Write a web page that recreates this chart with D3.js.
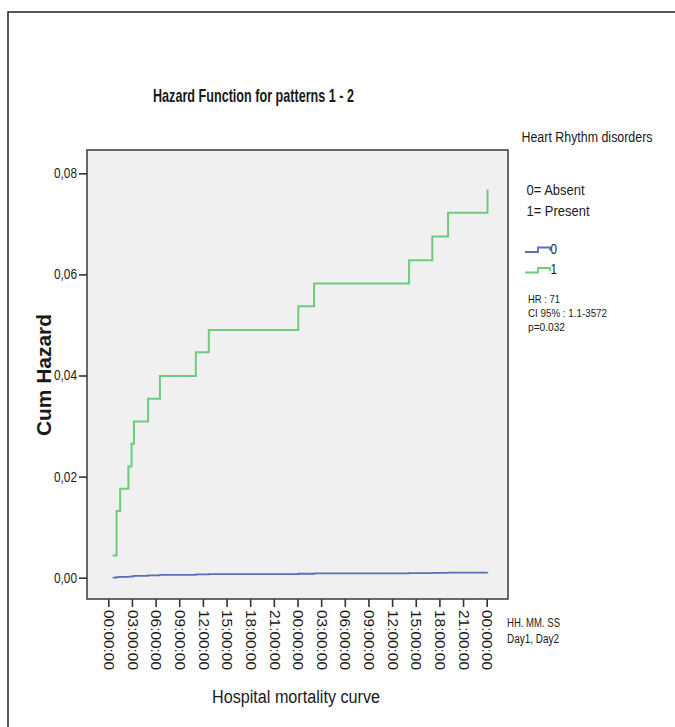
<!DOCTYPE html>
<html>
<head>
<meta charset="utf-8">
<script src="https://cdn.jsdelivr.net/npm/d3@7"></script>
<style>
  body { margin: 0; background: #fff; }
  svg text { font-family: "Liberation Sans", Arial, sans-serif; fill: #1a1a1a; }
</style>
</head>
<body>
<svg id="hazard" width="675" height="727"></svg>
<script>
// ---------- data ----------
const eventHours = [0.55, 1.05, 1.5, 2.55, 2.95, 3.25, 5.05, 6.55, 11.1, 12.75, 24.1, 26.1, 38.15, 41.1, 43.1, 48.1];
const hazardPresent = [0.0044, 0.0132, 0.0176, 0.022, 0.0265, 0.0309, 0.0354, 0.0399, 0.0446, 0.049, 0.0537, 0.0582, 0.0628, 0.0675, 0.0722, 0.0768];
const hazardAbsent = [0.0000, 0.0001, 0.00015, 0.0002, 0.00028, 0.00035, 0.00045, 0.00055, 0.00065, 0.00072, 0.00078, 0.00085, 0.0009, 0.00095, 0.001, 0.00105];
const xTickHours = [0, 3, 6, 9, 12, 15, 18, 21, 24, 27, 30, 33, 36, 39, 42, 45, 48];
const xTickLabels = ['00:00:00', '03:00:00', '06:00:00', '09:00:00', '12:00:00', '15:00:00', '18:00:00', '21:00:00',
                     '00:00:00', '03:00:00', '06:00:00', '09:00:00', '12:00:00', '15:00:00', '18:00:00', '21:00:00', '00:00:00'];
const yTicks = [0, 0.02, 0.04, 0.06, 0.08];
const groups = ['0', '1'];
const groupColors = ['#5a6ec0', '#6ccc7c'];
const noteLines = ['HR : 71', 'CI 95% : 1.1-3572', 'p=0.032'];
const noteWidths = [32, 79, 37];

const svg = d3.select('svg#hazard');

// plot box
const box = { left: 87, right: 508, top: 150, bottom: 599 };

const x = d3.scaleLinear().domain([0, 48]).range([108.3, 486.7]);
const y = d3.scaleLinear().domain([0, 0.08]).range([577.7, 173.3]);

// squeeze horizontal text a bit, the original is narrow
function squeeze(sel, w) {
  sel.attr('textLength', w).attr('lengthAdjust', 'spacingAndGlyphs');
}

//---------- outer frame (only top and left are visible) ----------
svg.append('path')
    .attr('d', 'M8,727 V12 H675')
    .attr('fill', 'none')
    .attr('stroke', '#222')
    .attr('stroke-width', 1.5);

//---------- title ----------
svg.append('text')
    .attr('x', 253.5)
    .attr('y', 102)
    .attr('text-anchor', 'middle')
    .style('font-size', '19px')
    .style('font-weight', 'bold')
    .text('Hazard Function for patterns 1 - 2')
    .call(squeeze, 201);

//---------- plot area ----------
svg.append('rect')
    .attr('x', box.left)
    .attr('y', box.top)
    .attr('width', box.right - box.left)
    .attr('height', box.bottom - box.top)
    .attr('fill', '#f0f0f0');

//---------- lines ----------
const line = d3.line()
    .x((d, i) => x(eventHours[i]))
    .y(d => y(d))
    .curve(d3.curveStepAfter);

[hazardAbsent, hazardPresent].forEach((series, k) => {
  svg.append('path')
      .datum(series)
      .attr('d', line)
      .attr('fill', 'none')
      .attr('stroke', groupColors[k])
      .attr('stroke-width', k ? 2 : 1.8);
});

svg.append('rect')
    .attr('x', box.left)
    .attr('y', box.top)
    .attr('width', box.right - box.left)
    .attr('height', box.bottom - box.top)
    .attr('fill', 'none')
    .attr('stroke', '#444')
    .attr('stroke-width', 1.6);

//---------- axes ----------
const yAxis = d3.axisLeft(y)
    .tickValues(yTicks)
    .tickSize(8)
    .tickSizeOuter(0)
    .tickPadding(2)
    .tickFormat(d => d.toFixed(2).replace('.', ','));

const gy = svg.append('g')
    .attr('transform', `translate(${box.left},0)`)
    .call(yAxis);
gy.select('.domain').remove();
gy.selectAll('.tick line').attr('stroke', '#333').attr('stroke-width', 1.6);
gy.selectAll('.tick text')
    .style('font-size', '14px')
    .attr('fill', '#222')
    .each(function() { d3.select(this).call(squeeze, 23); });

const xAxis = d3.axisBottom(x)
    .tickValues(xTickHours)
    .tickSize(8)
    .tickSizeOuter(0)
    .tickFormat((d, i) => xTickLabels[i]);

const gx = svg.append('g')
    .attr('transform', `translate(0,${box.bottom})`)
    .call(xAxis);
gx.select('.domain').remove();
gx.selectAll('.tick line').attr('stroke', '#333').attr('stroke-width', 1.6);
gx.selectAll('.tick text')
    .style('font-size', '15px')
    .attr('fill', '#222')
    .attr('text-anchor', 'start')
    .attr('transform', 'rotate(90)')
    .attr('x', 11)
    .attr('y', 0)
    .attr('dy', '0.32em')
    .each(function() { d3.select(this).call(squeeze, 60); });

//---------- axis titles ----------
svg.append('text')
    .attr('transform', 'translate(51,375) rotate(-90)')
    .attr('text-anchor', 'middle')
    .style('font-size', '20px')
    .style('font-weight', 'bold')
    .text('Cum Hazard')
    .call(squeeze, 122);

svg.append('text')
    .attr('x', 296)
    .attr('y', 703)
    .attr('text-anchor', 'middle')
    .style('font-size', '18px')
    .text('Hospital mortality curve')
    .call(squeeze, 168);

svg.append('text')
    .attr('x', 507)
    .attr('y', 627)
    .style('font-size', '12.5px')
    .attr('fill', '#333')
    .text('HH. MM. SS')
    .call(squeeze, 53);

svg.append('text')
    .attr('x', 507)
    .attr('y', 643)
    .style('font-size', '12.5px')
    .attr('fill', '#333')
    .text('Day1, Day2')
    .call(squeeze, 52);

//---------- legend ----------
svg.append('text')
    .attr('x', 521.5)
    .attr('y', 142)
    .style('font-size', '14px')
    .text('Heart Rhythm disorders')
    .call(squeeze, 131);

svg.append('text')
    .attr('x', 526.5)
    .attr('y', 195)
    .style('font-size', '14.5px')
    .text('0= Absent')
    .call(squeeze, 58);

svg.append('text')
    .attr('x', 526.5)
    .attr('y', 215.5)
    .style('font-size', '14.5px')
    .text('1= Present')
    .call(squeeze, 63);

const legend = svg.append('g')
    .selectAll('g')
    .data(groups)
    .join('g')
      .attr('transform', (d, i) => `translate(525,${252 + i * 20.5})`);

legend.append('path')
    .attr('d', 'M0,0 H13 V-4.5 H25 V-1.5')
    .attr('fill', 'none')
    .attr('stroke', (d, i) => groupColors[i])
    .attr('stroke-width', 1.8);

legend.append('text')
    .attr('x', 25.5)
    .attr('y', 1.5)
    .style('font-size', '14px')
    .text(d => d)
    .call(squeeze, 6.5);

svg.append('g')
    .selectAll('text')
    .data(noteLines)
    .join('text')
      .attr('x', 528)
      .attr('y', (d, i) => 303 + i * 14)
      .style('font-size', '11.5px')
      .attr('fill', '#333')
      .text(d => d)
      .each(function(d, i) { d3.select(this).call(squeeze, noteWidths[i]); });
</script>
</body>
</html>
